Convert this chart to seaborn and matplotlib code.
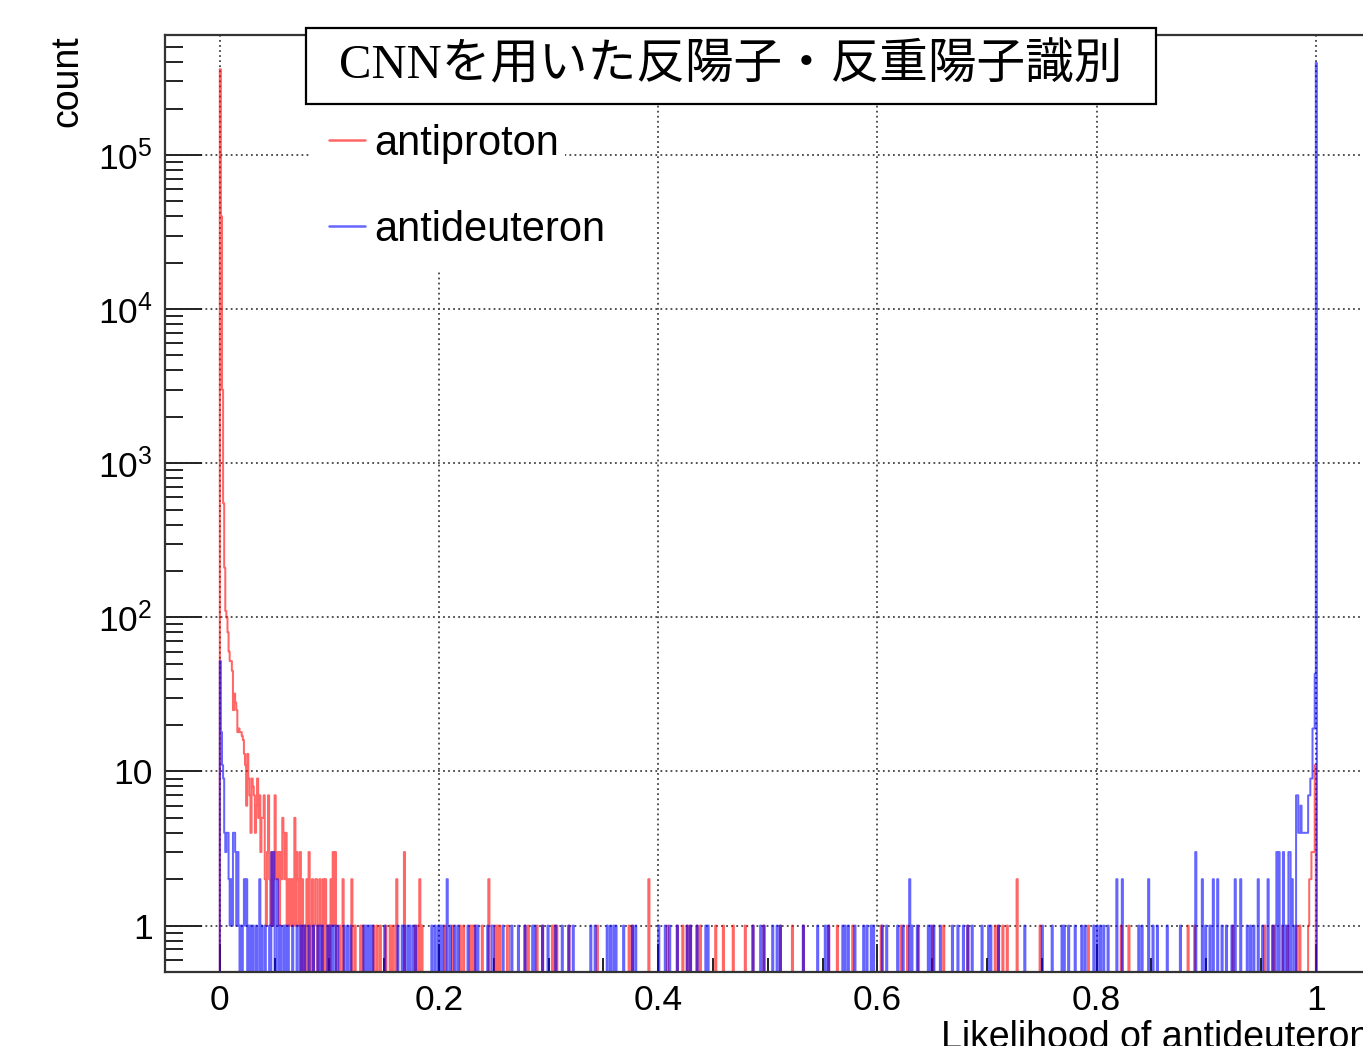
import numpy as np
import pandas as pd
import matplotlib
matplotlib.use("Agg")
import matplotlib.pyplot as plt
import seaborn as sns
from matplotlib.lines import Line2D
from matplotlib.patches import Rectangle
from matplotlib.ticker import FixedLocator, FixedFormatter, LogLocator, MultipleLocator, NullFormatter

# ---------------- data (bin index k -> bin [k/1000, (k+1)/1000)) ----------------
proton_bins = [
    0, 1, 2, 3, 4, 5, 6, 7, 8, 9, 10, 11, 12, 13, 14, 15, 16, 17, 18, 19, 20,
    21, 22, 23, 24, 25, 26, 27, 28, 29, 30, 31, 32, 33, 34, 35, 36, 37, 38, 39, 40,
    41, 42, 43, 44, 45, 46, 47, 48, 49, 50, 51, 52, 53, 54, 55, 56, 57, 58, 59, 60,
    61, 62, 63, 64, 65, 66, 67, 68, 69, 70, 71, 72, 73, 75, 76, 78, 79, 81, 82, 84,
    86, 87, 88, 90, 91, 92, 94, 96, 97, 99, 101, 102, 103, 104,
    105, 109, 112, 120, 123, 128, 130, 140, 143, 146, 151, 155, 157, 160, 161, 168,
    178, 180, 182, 184, 205, 212, 219, 222, 228, 230, 232, 239, 245, 251, 253, 255,
    262, 263, 278, 281, 289, 294, 303, 305, 307, 318,
    344, 373, 376, 391, 408, 417, 422, 426, 429, 435, 438, 452, 459, 468, 479, 486,
    496, 511, 522, 532, 555, 563,
    577, 603, 621, 627, 637, 650, 660, 682, 707, 710, 714, 718, 727, 748, 792,
    822, 829, 883, 889, 924, 953, 961, 969, 974, 982, 985, 993, 994, 995, 996, 997,
    998, 999,
]
proton_counts = [
    360000, 40000, 3000, 550, 210, 110, 100, 80, 60, 52, 52, 45, 25, 32, 28, 25, 18, 19, 18, 18, 17,
    16, 13, 11, 6, 13, 9, 7, 4, 9, 8, 7, 4, 6, 9, 5, 7, 3, 5, 5, 7,
    2, 1, 3, 7, 2, 1, 3, 1, 2, 7, 3, 2, 3, 1, 3, 2, 5, 4, 2, 4,
    1, 2, 1, 2, 1, 2, 1, 5, 1, 3, 2, 1, 3, 2, 1, 1, 2, 3, 1, 2,
    1, 2, 2, 1, 2, 1, 2, 2, 1, 1, 2, 1, 3, 1,
    3, 1, 2, 2, 1, 1, 1, 1, 1, 1, 1, 1, 1, 1, 2, 3,
    1, 1, 2, 1, 1, 1, 1, 1, 1, 1, 1, 1, 2, 1, 1, 1,
    1, 1, 1, 1, 1, 1, 1, 1, 1, 1,
    1, 1, 1, 2, 1, 1, 1, 1, 1, 1, 1, 1, 1, 1, 1, 1,
    1, 1, 1, 1, 1, 1,
    1, 1, 1, 1, 1, 1, 1, 1, 1, 1, 1, 1, 2, 1, 1,
    1, 1, 1, 1, 1, 1, 1, 1, 1, 1, 1, 1, 2, 2, 3, 3,
    3, 11,
]

deuteron_bins = [
    0, 1, 2, 3, 4, 5, 6, 7, 8, 9, 10, 11, 12, 13, 14, 15, 16, 17, 19, 21, 22, 23,
    24, 26, 28, 30, 33, 36, 38, 41, 45, 47, 48, 49, 52, 53, 55, 58, 60, 62, 66, 70,
    73, 75, 77, 81, 85, 89, 91, 93, 98, 100, 102, 104,
    105, 107, 113, 116, 119, 131, 133, 135, 137, 139, 150, 162, 166, 168, 171, 173,
    176, 178, 193, 196, 199, 201, 203, 207, 210, 214, 217, 226, 233, 235, 244, 248,
    249, 258, 266, 272, 278, 285, 287, 294, 299, 306, 312, 318, 322,
    338, 342, 353, 356, 359, 361, 368, 376, 379, 400, 406, 410, 417, 426, 429, 435,
    443, 445, 486, 493, 496, 504, 508, 511, 532, 545, 552, 555, 568,
    570, 573, 579, 587, 590, 594, 596, 604, 608, 618, 623, 629, 631, 636, 646, 648,
    651, 657, 668, 673, 678, 682, 686, 695, 701, 703, 710, 734, 750, 759, 768, 770,
    774, 780, 786, 789, 797, 800,
    803, 806, 810, 818, 823, 838, 841, 847, 851, 855, 864, 876, 890, 896, 899, 903,
    906, 910, 914, 918, 923, 926, 931, 937, 940, 943, 947, 951, 956, 960, 963, 964,
    966, 970, 972, 975, 976, 978, 979, 982, 983, 984, 985, 986, 987, 988, 989, 990,
    991, 992, 993, 994, 995, 996, 997, 998, 999, 1000,
]
deuteron_counts = [
    52, 18, 11, 9, 4, 3, 4, 4, 2, 1, 2, 1, 4, 4, 3, 1, 3, 1, 1, 1, 2, 1,
    2, 1, 1, 1, 1, 2, 1, 1, 1, 3, 1, 3, 2, 1, 1, 1, 1, 1, 1, 1,
    1, 1, 1, 1, 1, 1, 1, 1, 1, 1, 1, 1,
    1, 1, 1, 1, 1, 1, 1, 1, 1, 1, 1, 1, 1, 1, 1, 1,
    1, 1, 1, 1, 1, 1, 1, 2, 1, 1, 1, 1, 1, 1, 1, 1,
    1, 1, 1, 1, 1, 1, 1, 1, 1, 1, 1, 1, 1,
    1, 1, 1, 1, 1, 1, 1, 1, 1, 1, 1, 1, 1, 1, 1, 1,
    1, 1, 1, 1, 1, 1, 1, 1, 1, 1, 1, 1, 1,
    1, 1, 1, 1, 1, 1, 1, 1, 1, 1, 1, 2, 1, 1, 1, 1,
    1, 1, 1, 1, 1, 1, 1, 1, 1, 1, 1, 1, 1, 1, 1, 1,
    1, 1, 1, 1, 1, 1,
    1, 1, 1, 2, 2, 1, 1, 2, 1, 1, 1, 1, 3, 2, 1, 1,
    2, 2, 1, 1, 1, 2, 2, 1, 1, 1, 2, 1, 2, 1, 1, 3,
    3, 3, 1, 3, 3, 2, 1, 7, 7, 4, 4, 6, 4, 4, 4, 4,
    4, 4, 7, 7, 9, 9, 19, 19, 43, 395000,
]

series_names = ["antiproton", "antideuteron"]
x_ticks = [0.0, 0.2, 0.4, 0.6, 0.8, 1.0]
x_tick_labels = ["0", "0.2", "0.4", "0.6", "0.8", "1"]
y_ticks = [1, 10, 1e2, 1e3, 1e4, 1e5]
y_tick_labels = ["1", "10", "$10^{2}$", "$10^{3}$", "$10^{4}$", "$10^{5}$"]
title_text = "CNNを用いた反陽子・反重陽子識別"
x_label = "Likelihood of antideuteron"
y_label = "count"
bin_width = 0.001

# ---------------- style ----------------
sns.set_theme(style="white")
plt.rcParams["font.family"] = ["Liberation Sans", "DejaVu Sans"]
plt.rcParams["mathtext.fontset"] = "custom"
plt.rcParams["mathtext.rm"] = "Liberation Sans"
plt.rcParams["mathtext.it"] = "Liberation Sans:italic"
plt.rcParams["mathtext.bf"] = "Liberation Sans:bold"
plt.rcParams["mathtext.default"] = "regular"

W, H = 1363, 1046
fig = plt.figure(figsize=(W / 100, H / 100), dpi=100)
fig.patch.set_facecolor("white")
ax = fig.add_axes([165 / W, (H - 972) / H, 1205.6 / W, 937 / H])
ax.set_yscale("log")

edges = [round(i * bin_width, 6) for i in range(-50, 1051)]

df = pd.DataFrame({
    "likelihood": [(k + 0.5) * bin_width for k in proton_bins]
    + [(k + 0.5) * bin_width for k in deuteron_bins],
    "count": proton_counts + deuteron_counts,
    "particle": [series_names[0]] * len(proton_bins) + [series_names[1]] * len(deuteron_bins),
})

colors = {"antiproton": "#ff0000", "antideuteron": "#0000ff"}
for name in series_names:
    sub = df[df["particle"] == name]
    sns.histplot(data=sub, x="likelihood", weights="count", bins=edges,
                 element="step", fill=False, color=colors[name], alpha=0.6,
                 linewidth=1.45, ax=ax)

ax.set_xlim(-0.05, 1.05)
ax.set_ylim(0.5, 6e5)

# ticks
ax.xaxis.set_major_locator(FixedLocator(x_ticks))
ax.xaxis.set_major_formatter(FixedFormatter(x_tick_labels))
ax.xaxis.set_minor_locator(MultipleLocator(0.05))
ax.yaxis.set_major_locator(FixedLocator(y_ticks))
ax.yaxis.set_major_formatter(FixedFormatter(y_tick_labels))
ax.yaxis.set_minor_locator(LogLocator(base=10, subs=np.arange(2, 10)))
ax.yaxis.set_minor_formatter(NullFormatter())

ax.tick_params(axis="both", which="both", direction="in", color="#222222",
               labelcolor="black", top=False, right=False, bottom=True, left=True,
               width=1.4)
ax.tick_params(axis="x", which="major", length=20, labelsize=25.5, pad=9)
ax.tick_params(axis="x", which="minor", length=10)
ax.tick_params(axis="y", which="major", length=26.5, labelsize=25.5, pad=9)
ax.tick_params(axis="y", which="minor", length=13.3)

for s in ax.spines.values():
    s.set_visible(True)
    s.set_color("#333333")
    s.set_linewidth(1.6)

ax.grid(True, which="major", axis="both", linestyle=(0, (1, 1.8)),
        color="#444444", linewidth=1.3)

# axis labels
ax.set_ylabel(y_label, loc="top", fontsize=27, color="black")
ax.yaxis.set_label_coords(-0.0664, 1.0)
ax.set_xlabel(x_label, loc="right", fontsize=27, color="black")
ax.xaxis.set_label_coords(1.0, -0.0512)

# legend: white panel + entries
ax.add_patch(Rectangle(((310 - 165) / 1205.6, (972 - 270) / 937),
                       255 / 1205.6, 165 / 937, transform=ax.transAxes,
                       facecolor="white", edgecolor="none", zorder=4))
handles = [Line2D([], [], color=colors[n], alpha=0.6, linewidth=1.8) for n in series_names]
leg = ax.legend(handles, series_names, loc="upper left",
                bbox_to_anchor=((310 - 165) / 1205.6, (972 - 105) / 937),
                fontsize=30, frameon=False, handlelength=0.86, handletextpad=0.22,
                labelspacing=1.1, borderpad=0.45, borderaxespad=0)
leg.set_zorder(5)
for t in leg.get_texts():
    t.set_color("black")

# title box
fig.patches.append(Rectangle((306 / W, (H - 104) / H), 850 / W, 76 / H,
                             transform=fig.transFigure, facecolor="white",
                             edgecolor="black", linewidth=1.6, zorder=5))
fig.text(731 / W, (H - 66) / H, title_text, ha="center", va="center", color="black",
         fontsize=35, family=["Liberation Serif", "Noto Sans CJK JP"], zorder=6)

fig.savefig("out.png", dpi=100, facecolor="white")
